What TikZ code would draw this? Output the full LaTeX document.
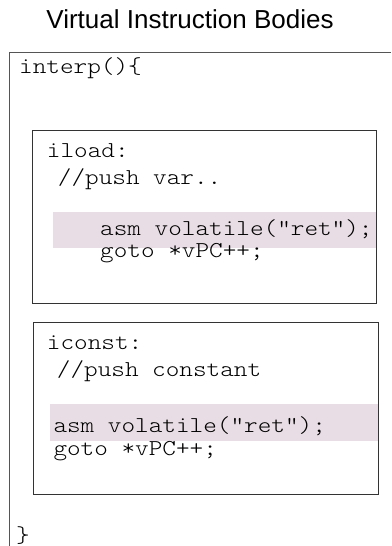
\documentclass[tikz,border=0pt]{standalone}
\usepackage{fontspec}
\setmainfont{Liberation Sans}
\newfontfamily\codefont[FakeStretch=1.143]{Latin Modern Mono Light}
\definecolor{framegray}{HTML}{555555}
\definecolor{boxgray}{HTML}{333333}
\definecolor{hilite}{HTML}{E8DDE4}
\begin{document}
\begin{tikzpicture}[x=1pt,y=-1pt,
  code/.style={anchor=base west,inner sep=0pt,font=\codefont\fontsize{22.7}{26}\selectfont,text=black},
  bodybox/.style={draw=boxgray,line width=1pt},
  band/.style={fill=hilite}]
\useasboundingbox (0,0) rectangle (391,546);

% title
\node[anchor=base,inner sep=0pt,font=\fontsize{26}{30}\selectfont] (title) at (190,28) {Virtual Instruction Bodies};

% enclosing interpreter function (open on the right and bottom)
\draw[framegray,line width=1pt] (9,546) -- (9,52) -- (391,52);
\node[code] (interp) at (19,73) {interp()\{};
\node[code] (close) at (16,542) {\}};

% iload body
\fill[band] (52.7,211.7) rectangle (375.7,248.3);
\node[bodybox,minimum width=343.7pt,minimum height=172.7pt,anchor=north west,inner sep=0pt] (iload) at (32,130) {};
\node[code] (l1) at (46.7,157) {iload:};
\node[code] (l2) at (57.7,184) {//push var..};
\node[code] (l3) at (100,235) {asm volatile("ret");};
\node[code] (l4) at (100,257) {goto *vPC++;};

% iconst body
\fill[band] (50,404) rectangle (377.7,440.7);
\node[bodybox,minimum width=344.4pt,minimum height=172.6pt,anchor=north west,inner sep=0pt] (iconst) at (33.3,321.7) {};
\node[code] (c1) at (46.7,349) {iconst:};
\node[code] (c2) at (56.7,376) {//push constant};
\node[code] (c3) at (53.3,432) {asm volatile("ret");};
\node[code] (c4) at (53.3,455) {goto *vPC++;};
\end{tikzpicture}
\end{document}
